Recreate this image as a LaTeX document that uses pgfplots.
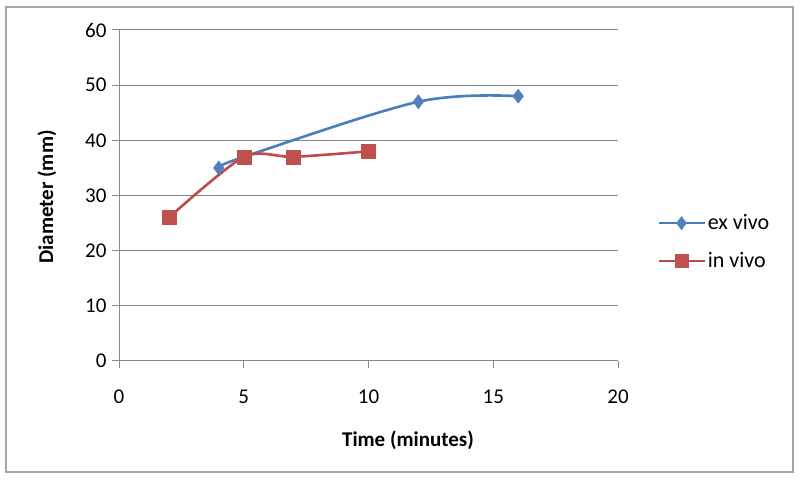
\documentclass[border=0pt]{standalone}
\usepackage{fontspec}
\setmainfont{Carlito}
\usepackage{pgfplots}
\pgfplotsset{compat=1.18}
\definecolor{exblue}{HTML}{4A7EBB}
\definecolor{exmark}{HTML}{4F81BD}
\definecolor{inred}{HTML}{BE4B48}
\definecolor{inmark}{HTML}{C0504D}
\definecolor{gridgray}{HTML}{888888}
\definecolor{framegray}{HTML}{A6A6A6}
\begin{document}
\begin{tikzpicture}[x=1pt,y=1pt]
\path[use as bounding box] (0,0) rectangle (800,486);
\fill[white] (0,0) rectangle (800,486);
\draw[framegray, line width=1.2pt] (6,14) rectangle (793,479);
\begin{axis}[
  at={(119pt,125pt)}, anchor=south west,
  scale only axis, width=499pt, height=331pt,
  xmin=0, xmax=20, ymin=0, ymax=60,
  xtick={0,5,...,20}, ytick={0,10,...,60},
  axis x line*=bottom, axis y line*=left,
  axis line style={gridgray, line width=1pt, -},
  ymajorgrids, grid style={gridgray, line width=1pt},
  tick style={gridgray, line width=1pt},
  tick align=outside, major tick length=7pt,
  /pgf/number format/assume math mode=true,
  ticklabel style={font=\fontsize{21}{24}\selectfont, text=black},
  yticklabel style={xshift=-2pt},
  xticklabel style={yshift=-18pt},
  clip=false,
  legend style={draw=none, fill=none, at={(535pt,119pt)}, anchor=west,
    font=\fontsize{22}{25}\selectfont, row sep=17pt, legend cell align=left},
  legend image code/.code={
    \draw[#1, mark=none] (0pt,0pt) -- (46pt,0pt);
    \draw[#1, draw opacity=0] plot coordinates {(23pt,0pt)};
  },
]
\addplot[exblue, line width=2.6pt, smooth, tension=0.55,
  mark=diamond*, mark size=7pt, mark options={fill=exmark, draw=exmark, line width=0.5pt}]
  coordinates {(4,35) (5,37) (12,47) (16,48)};
\addlegendentry{ex vivo}
\addplot[inred, line width=2.6pt, smooth, tension=0.45,
  mark=square*, mark size=7pt, mark options={fill=inmark, draw=inmark, line width=0.5pt}]
  coordinates {(2,26) (5,37) (7,37) (10,38)};
\addlegendentry{in vivo}
\end{axis}
\node[font=\bfseries\fontsize{21}{24}\selectfont, rotate=90] at (47,289) {Diameter (mm)};
\node[font=\bfseries\fontsize{21}{24}\selectfont] at (408,46) {Time (minutes)};
\end{tikzpicture}
\end{document}
